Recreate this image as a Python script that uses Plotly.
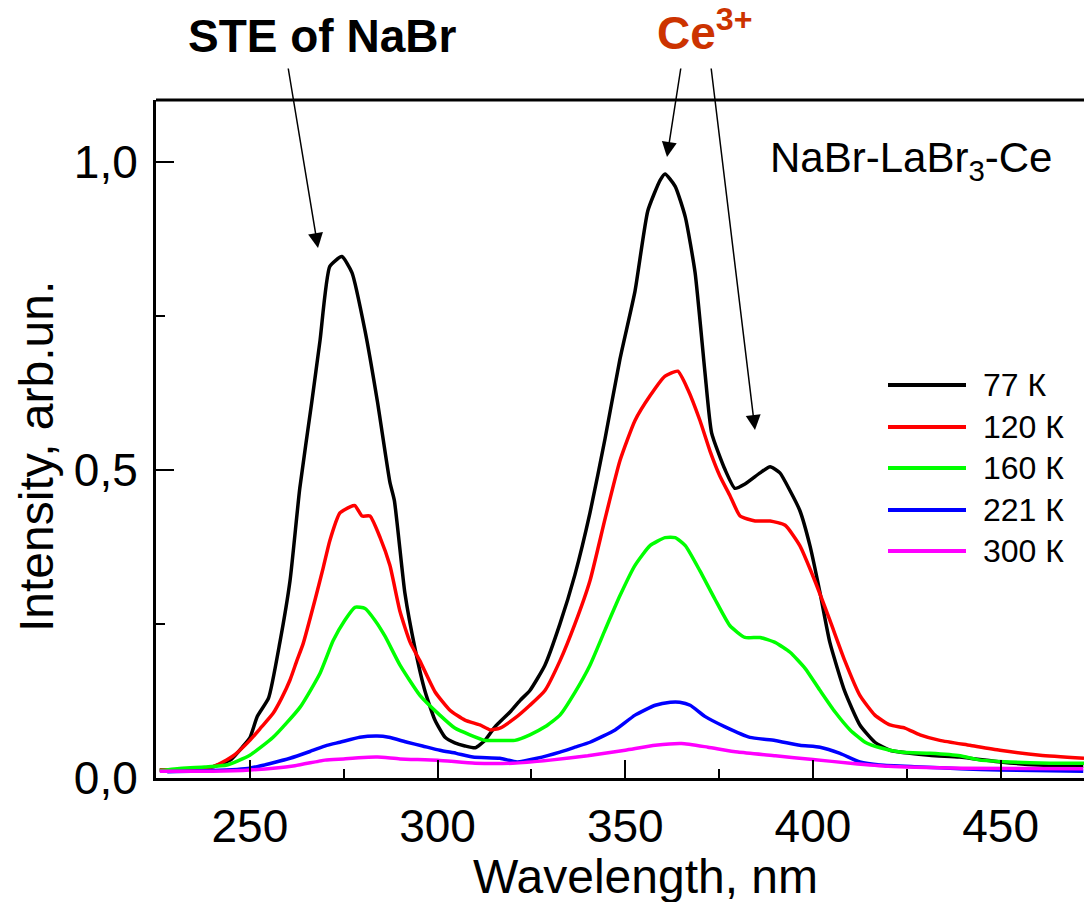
import plotly.graph_objects as go

# ---------------- data ----------------
wl_77 = [226, 235, 240, 245, 248, 250, 252, 255, 258, 260.7, 263.3, 266.5, 268.7, 271.3, 274.5,
         277.2, 280.7, 284, 287.3, 288.5, 291.3, 294, 296.7, 299.3, 302, 304.6, 307.3, 310, 312.6, 315.3,
         319.3, 322, 324.6, 328.6, 332.6, 336.6, 340.6, 344.6, 348.6, 352.6, 356, 359.3, 360.6, 363.3, 366,
         368.6, 371.2, 373, 376.6, 379.2, 381.9, 385.9, 388.6, 391.2, 393.9, 396.5, 399.2, 401.9, 404.5, 408.5,
         412.5, 416.5, 420.5, 431, 439, 450, 460, 472]
i_77 = [0.013, 0.013, 0.018, 0.03, 0.05, 0.065, 0.1, 0.13, 0.22, 0.32, 0.47, 0.61, 0.71, 0.83, 0.846,
        0.82, 0.725, 0.61, 0.48, 0.45, 0.30, 0.21, 0.14, 0.094, 0.066, 0.057, 0.052, 0.049, 0.061, 0.083,
        0.107, 0.126, 0.142, 0.183, 0.25, 0.33, 0.43, 0.55, 0.68, 0.79, 0.92, 0.97, 0.98, 0.96, 0.91,
        0.82, 0.66, 0.56, 0.50, 0.47, 0.477, 0.495, 0.505, 0.495, 0.466, 0.434, 0.377, 0.30, 0.22, 0.14,
        0.086, 0.058, 0.045, 0.037, 0.034, 0.026, 0.021, 0.019]

wl_120 = [226, 235, 240, 242.8, 246, 250, 253, 256.2, 258.5, 260.7, 262.5, 264.2, 267.4, 269.5, 271.3,
          274, 276.7, 278, 279.9, 282, 284.7, 287.3, 290, 292.7, 295.3, 299.3, 303.3, 307.3, 311.3, 314,
          316.6, 320.6, 324.6, 328.6, 332.6, 336.6, 340.6, 344.6, 348.6, 352.6, 356.6, 360.6, 364, 366.7, 369.9,
          372.6, 375.2, 377.9, 380.6, 384.6, 388.6, 392.6, 396.5, 400.5, 404.5, 408.5, 412.5, 416.5, 420.5, 424.5,
          428.5, 433.8, 441.8, 449.8, 460.5, 472.2]
i_120 = [0.013, 0.014, 0.018, 0.026, 0.038, 0.061, 0.082, 0.105, 0.13, 0.159, 0.19, 0.218, 0.29, 0.34, 0.385,
         0.43, 0.44, 0.442, 0.425, 0.425, 0.39, 0.345, 0.27, 0.22, 0.19, 0.14, 0.11, 0.094, 0.086, 0.078,
         0.081, 0.097, 0.118, 0.142, 0.19, 0.25, 0.32, 0.42, 0.515, 0.58, 0.62, 0.652, 0.66, 0.63, 0.58,
         0.53, 0.49, 0.458, 0.425, 0.417, 0.417, 0.41, 0.377, 0.32, 0.256, 0.19, 0.134, 0.102, 0.086, 0.081,
         0.07, 0.061, 0.053, 0.045, 0.037, 0.032]

wl_160 = [226, 232, 238, 243.9, 250, 256.2, 263.4, 268.7, 272.2, 275.3, 278, 280.7, 283.3, 286, 290,
          295.3, 300.6, 304.6, 308.6, 312.6, 316.6, 320.6, 324.6, 328.6, 332.6, 336.6, 340.6, 344.6, 348.6, 352.6,
          356.6, 360.6, 363.3, 366, 369.9, 373.9, 377.9, 381.9, 385.9, 389.9, 393.9, 397.9, 401.9, 405.9, 409.9,
          413.9, 417.9, 423.2, 431.2, 439.2, 444.5, 452.5, 463.1, 472.2]
i_160 = [0.012, 0.016, 0.018, 0.021, 0.037, 0.066, 0.115, 0.17, 0.223, 0.256, 0.277, 0.275, 0.256, 0.23, 0.183,
         0.134, 0.102, 0.081, 0.07, 0.061, 0.061, 0.061, 0.07, 0.083, 0.102, 0.139, 0.183, 0.24, 0.296, 0.345,
         0.377, 0.39, 0.39, 0.377, 0.336, 0.29, 0.247, 0.228, 0.228, 0.22, 0.204, 0.178, 0.142, 0.107, 0.078,
         0.058, 0.049, 0.042, 0.04, 0.036, 0.029, 0.026, 0.024, 0.024]

wl_221 = [228, 240, 250, 260.7, 266, 270.5, 274, 279.3, 283.9, 287, 291.9, 296, 300.6, 305, 309.4,
          316.6, 321.2, 326.5, 332.6, 336.6, 340.6, 347.3, 352.6, 358, 362, 364.5, 367.3, 371.2, 376.6, 383.2,
          389.9, 396.5, 401.9, 407.2, 412.5, 417.9, 428.5, 439.2, 449.8, 472]
i_221 = [0.01, 0.012, 0.016, 0.032, 0.043, 0.053, 0.058, 0.066, 0.068, 0.066, 0.058, 0.052, 0.045, 0.04, 0.034,
         0.032, 0.026, 0.032, 0.042, 0.05, 0.058, 0.078, 0.102, 0.118, 0.123, 0.123, 0.118, 0.1, 0.083, 0.066,
         0.061, 0.053, 0.05, 0.04, 0.026, 0.021, 0.018, 0.015, 0.013, 0.011]

wl_300 = [226, 240, 250, 262, 270, 275, 279, 284, 290, 300, 310, 320, 330, 340, 350,
          358, 365, 372, 380, 390, 400, 410, 420, 440, 472]
i_300 = [0.011, 0.011, 0.013, 0.02, 0.029, 0.031, 0.033, 0.034, 0.031, 0.029, 0.024, 0.024, 0.029, 0.036, 0.045,
         0.053, 0.056, 0.05, 0.042, 0.036, 0.03, 0.024, 0.019, 0.016, 0.015]

series_names = ["77 К", "120 К", "160 К", "221 К", "300 К"]
series_colors = ["#000000", "#FF0000", "#00FF00", "#0000FF", "#FF00FF"]
series_x = [wl_77, wl_120, wl_160, wl_221, wl_300]
series_y = [i_77, i_120, i_160, i_221, i_300]

x_ticks = [250, 300, 350, 400, 450]
y_ticks = [0.0, 0.5, 1.0]

# ---------------- layout geometry ----------------
W, H = 1084, 902
L, R, T, B = 156, 0, 100, 124
PW, PH = W - L - R, H - T - B
FONT = "Liberation Sans, Arial, sans-serif"


def px(x):
    return (x - L) / PW


def py(y):
    return (H - B - y) / PH


fig = go.Figure()
for xs, ys, name, col in zip(series_x, series_y, series_names, series_colors):
    fig.add_trace(go.Scatter(x=xs, y=ys, mode="lines", name=name,
                             line=dict(color=col, width=3.5, shape="spline", smoothing=0.5),
                             showlegend=False))

annotations = []
shapes = []

# manual legend
leg_y = [385, 427, 468, 510, 551]
for name, col, yy in zip(series_names, series_colors, leg_y):
    shapes.append(dict(type="line", xref="paper", yref="paper",
                       x0=px(888), x1=px(966), y0=py(yy), y1=py(yy),
                       line=dict(color=col, width=4)))
    annotations.append(dict(text=name, xref="paper", yref="paper", x=px(981), y=py(yy),
                            xanchor="left", yanchor="middle", showarrow=False,
                            font=dict(family=FONT, size=32, color="black")))

# top frame line
shapes.append(dict(type="line", xref="paper", yref="paper", x0=0, x1=1, y0=1, y1=1,
                   line=dict(color="black", width=3)))

# labels
annotations.append(dict(text="<b>STE of NaBr</b>", xref="paper", yref="paper",
                        x=px(322), y=py(36), xanchor="center", yanchor="middle", showarrow=False,
                        font=dict(family=FONT, size=46, color="black")))
annotations.append(dict(text="<b>Ce<sup>3+</sup></b>",
                        xref="paper", yref="paper",
                        x=px(655), y=py(30), xanchor="left", yanchor="middle", showarrow=False,
                        font=dict(family=FONT, size=46, color="#CC3300")))
annotations.append(dict(text="NaBr-LaBr<sub>3</sub>-Ce", xref="paper", yref="paper",
                        x=px(768), y=py(160), xanchor="left", yanchor="middle", showarrow=False,
                        font=dict(family=FONT, size=42, color="black")))

# arrows (tail -> tip)
for (tx, ty), (hx, hy) in [((288, 67), (318, 248)), ((681, 67), (667, 157)), ((711, 67), (755, 430))]:
    annotations.append(dict(text="", xref="paper", yref="paper", x=px(hx), y=py(hy),
                            ax=tx - hx, ay=ty - hy, axref="pixel", ayref="pixel",
                            showarrow=True, arrowhead=2, arrowsize=2, arrowwidth=1.5,
                            arrowcolor="black", standoff=0))

# axis titles
annotations.append(dict(text="Wavelength, nm", xref="paper", yref="paper",
                        x=px(645), y=py(877), xanchor="center", yanchor="middle", showarrow=False,
                        font=dict(family=FONT, size=48, color="black")))
annotations.append(dict(text="Intensity, arb.un.", xref="paper", yref="paper",
                        x=px(36), y=py(457), xanchor="center", yanchor="middle", showarrow=False,
                        textangle=-90, font=dict(family=FONT, size=48, color="black")))

fig.update_layout(
    width=W, height=H,
    margin=dict(l=L, r=R, t=T, b=B, pad=0),
    paper_bgcolor="white", plot_bgcolor="white",
    separators=",.",
    font=dict(family=FONT, size=46, color="black"),
    annotations=annotations, shapes=shapes,
    showlegend=False,
)
fig.update_xaxes(range=[225, 472.2], tickvals=x_ticks, ticks="inside", ticklen=18, tickwidth=2,
                 tickcolor="black", showline=True, linecolor="black", linewidth=3,
                 showgrid=False, zeroline=False, tickfont=dict(family=FONT, size=46),
                 minor=dict(ticks="inside", ticklen=9, tickwidth=2, tickcolor="black", dtick=25,
                            tick0=225, showgrid=False),
                 ticklabelstandoff=6)
fig.update_yaxes(range=[0, 1.1], tickvals=y_ticks, tickformat=".1f", ticks="inside", ticklen=18, tickwidth=2,
                 tickcolor="black", showline=True, linecolor="black", linewidth=3,
                 showgrid=False, zeroline=False, tickfont=dict(family=FONT, size=46),
                 minor=dict(ticks="inside", ticklen=9, tickwidth=2, tickcolor="black", dtick=0.25,
                            tick0=0, showgrid=False),
                 ticklabelstandoff=6)

fig.write_html("out.html")
